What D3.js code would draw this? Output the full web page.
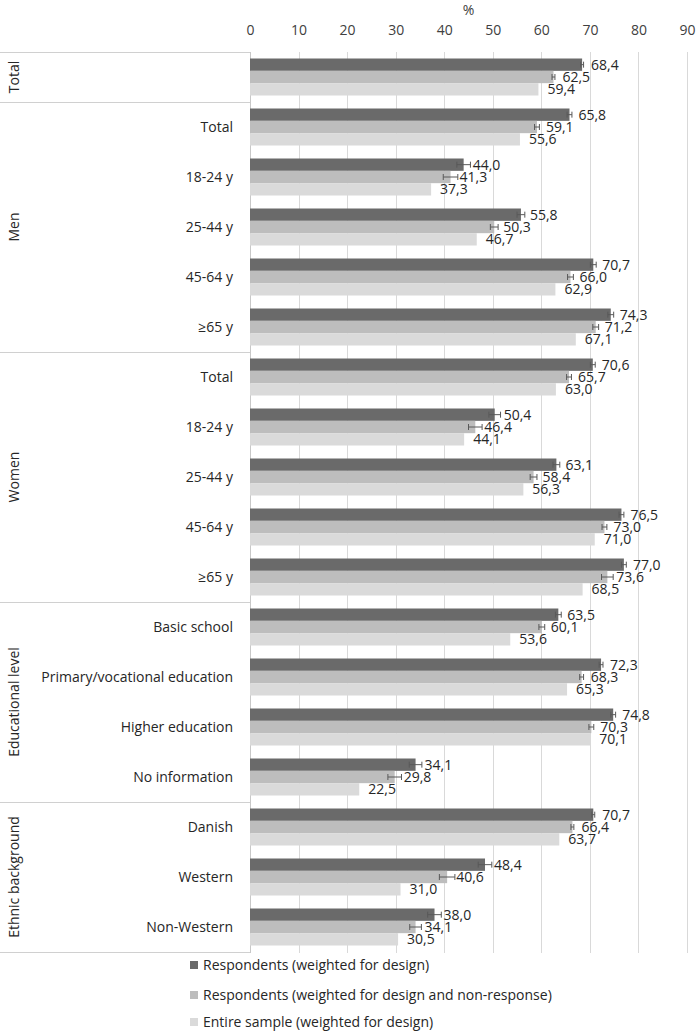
<!DOCTYPE html>
<html><head><meta charset="utf-8">
<script src="https://cdn.jsdelivr.net/npm/d3@7"></script>
<style>
html,body{margin:0;padding:0;background:#fff;}
text{font-family:"Open Sans",sans-serif;}
</style></head>
<body>
<svg id="chart" width="696" height="1035"></svg>
<script>
// ---- data ----
const groups = ["Total","Men","Women","Educational level","Ethnic background"];
const categories = [
  "Total",
  "Total","18-24 y","25-44 y","45-64 y","≥65 y",
  "Total","18-24 y","25-44 y","45-64 y","≥65 y",
  "Basic school","Primary/vocational education","Higher education","No information",
  "Danish","Western","Non-Western"
];
const categoryGroup = [0,1,1,1,1,1,2,2,2,2,2,3,3,3,3,4,4,4];
const seriesNames = [
  "Respondents (weighted for design)",
  "Respondents (weighted for design and non-response)",
  "Entire sample (weighted for design)"
];
const respDesign = [68.4,65.8,44.0,55.8,70.7,74.3,70.6,50.4,63.1,76.5,77.0,63.5,72.3,74.8,34.1,70.7,48.4,38.0];
const respNonresp = [62.5,59.1,41.3,50.3,66.0,71.2,65.7,46.4,58.4,73.0,73.6,60.1,68.3,70.3,29.8,66.4,40.6,34.1];
const entireSample = [59.4,55.6,37.3,46.7,62.9,67.1,63.0,44.1,56.3,71.0,68.5,53.6,65.3,70.1,22.5,63.7,31.0,30.5];
const errDesign = [0.3,0.5,1.4,0.8,0.6,0.6,0.5,1.2,0.7,0.5,0.5,0.6,0.4,0.5,1.3,0.3,1.4,1.4];
const errNonresp = [0.3,0.5,1.5,0.8,0.6,0.6,0.5,1.4,0.7,0.5,1.2,0.6,0.4,0.5,1.4,0.3,1.6,1.2];
const xTicks = [0,10,20,30,40,50,60,70,80,90];
const axisTitle = "%";

// ---- layout ----
const colors = ["#6a6a6a","#bdbdbd","#dadada"];
const svg = d3.select("#chart");
const mL = 250, mR = 687, mT = 52, mB = 952;
const x = d3.scaleLinear().domain([0,90]).range([mL,mR]);
const rowIdx = d3.range(categories.length);
const y = d3.scaleBand().domain(rowIdx).range([mT,mB]).paddingInner(0.26).paddingOuter(0.13);
const ySub = d3.scaleBand().domain([0,1,2]).range([0,y.bandwidth()]);
const fmt = v => d3.format(".1f")(v).replace(".", ",");

// gridlines
svg.append("g").selectAll("line").data(xTicks).join("line")
  .attr("x1",d=>Math.round(x(d))+0.5).attr("x2",d=>Math.round(x(d))+0.5).attr("y1",mT).attr("y2",mB+1)
  .attr("stroke",d=>d===0?"#c8c8c8":"#d9d9d9").attr("stroke-width",1);

// top axis
const ax = svg.append("g").attr("transform",`translate(0,${mT})`)
  .call(d3.axisTop(x).tickValues(xTicks).tickSize(0).tickPadding(17).tickFormat(d3.format("d")));
ax.select(".domain").remove();
ax.selectAll("text").attr("font-size",14).attr("fill","#404040").attr("font-family","Open Sans, sans-serif");
svg.append("text").attr("x",x(45)).attr("y",10).attr("dy","0.35em").attr("text-anchor","middle")
  .attr("font-size",14).attr("fill","#404040").text(axisTitle);

// group boxes
const groupBounds = groups.map((g,gi)=>{
  const rows = rowIdx.filter(i=>categoryGroup[i]===gi);
  return {g, y0: mT + rows[0]*y.step(), y1: mT + (rows[rows.length-1]+1)*y.step()};
});
const sep = Array.from(new Set(groupBounds.flatMap(b=>[b.y0,b.y1])));
svg.append("g").selectAll("line").data(sep).join("line")
  .attr("x1",0).attr("x2",mL).attr("y1",d=>Math.round(d)+0.5).attr("y2",d=>Math.round(d)+0.5)
  .attr("stroke","#d0d0d0").attr("stroke-width",1);
svg.append("g").selectAll("text").data(groupBounds).join("text")
  .attr("transform",b=>`translate(19,${(b.y0+b.y1)/2}) rotate(-90)`)
  .attr("text-anchor","middle").attr("font-size",14).attr("fill","#262626")
  .text(b=>b.g);

// category labels
svg.append("g").selectAll("text").data(rowIdx.filter(i=>i>0)).join("text")
  .attr("x",233).attr("y",i=>y(i)+y.bandwidth()/2).attr("dy","0.35em")
  .attr("text-anchor","end").attr("font-size",14).attr("fill","#262626")
  .text(i=>categories[i]);

// bars
const seriesVals = [respDesign, respNonresp, entireSample];
const seriesErr = [errDesign, errNonresp, null];
seriesVals.forEach((vals,s)=>{
  svg.append("g").selectAll("rect").data(rowIdx).join("rect")
    .attr("x",x(0)).attr("y",i=>y(i)+ySub(s))
    .attr("width",i=>x(vals[i])-x(0)).attr("height",ySub.bandwidth())
    .attr("fill",colors[s]);
});
// error bars
seriesVals.forEach((vals,s)=>{
  const err = seriesErr[s];
  if(!err) return;
  const g = svg.append("g").attr("stroke","#595959").attr("stroke-width",1);
  rowIdx.forEach(i=>{
    const cy = y(i)+ySub(s)+ySub.bandwidth()/2;
    const a = x(vals[i]-err[i]), b = x(vals[i]+err[i]);
    g.append("line").attr("x1",a).attr("x2",b).attr("y1",cy).attr("y2",cy);
    g.append("line").attr("x1",a).attr("x2",a).attr("y1",cy-3).attr("y2",cy+3);
    g.append("line").attr("x1",b).attr("x2",b).attr("y1",cy-3).attr("y2",cy+3);
  });
});
// labels
seriesVals.forEach((vals,s)=>{
  svg.append("g").selectAll("text").data(rowIdx).join("text")
    .attr("x",i=>x(vals[i])+9).attr("y",i=>y(i)+ySub(s)+ySub.bandwidth()/2).attr("dy","0.36em")
    .attr("font-size",14).attr("fill","#262626")
    .text(i=>fmt(vals[i]));
});

// legend
const leg = svg.append("g");
const legY = [965,995,1022];
seriesNames.forEach((n,s)=>{
  leg.append("rect").attr("x",190).attr("y",legY[s]-4).attr("width",8).attr("height",8).attr("fill",colors[s]);
  leg.append("text").attr("x",203).attr("y",legY[s]).attr("dy","0.35em")
    .attr("font-size",14).attr("fill","#262626").text(n);
});
</script>
</body></html>
